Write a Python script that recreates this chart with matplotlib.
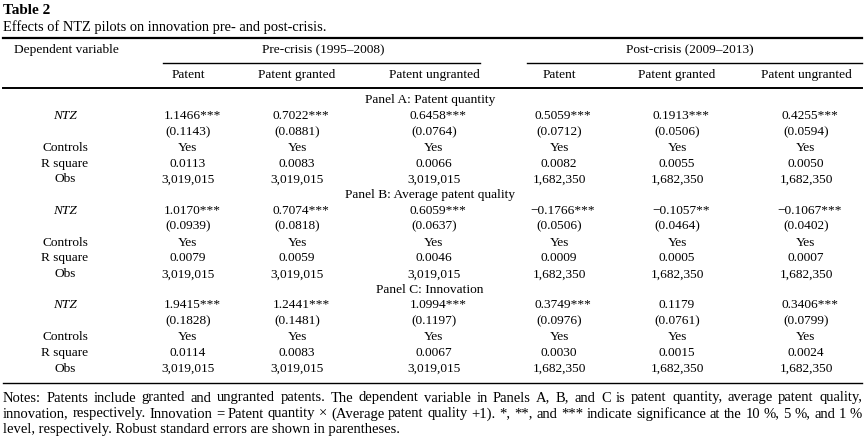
import matplotlib
matplotlib.use("Agg")
import matplotlib.pyplot as plt

plt.rcParams['font.family'] = ['Liberation Serif', 'DejaVu Serif']

# ---------------- data ----------------
title = "Table 2"
subtitle = "Effects of NTZ pilots on innovation pre- and post-crisis."
dep_label = "Dependent variable"
groups = ["Pre-crisis (1995\u20132008)", "Post-crisis (2009\u20132013)"]
columns = ["Patent", "Patent granted", "Patent ungranted",
           "Patent", "Patent granted", "Patent ungranted"]
panels = ["Panel A: Patent quantity", "Panel B: Average patent quality",
          "Panel C: Innovation"]
row_labels = ["NTZ", "", "Controls", "R square", "Obs"]

coef_A = ["1.1466***", "0.7022***", "0.6458***", "0.5059***", "0.1913***", "0.4255***"]
se_A = ["(0.1143)", "(0.0881)", "(0.0764)", "(0.0712)", "(0.0506)", "(0.0594)"]
r2_A = ["0.0113", "0.0083", "0.0066", "0.0082", "0.0055", "0.0050"]

coef_B = ["1.0170***", "0.7074***", "0.6059***", "\u22120.1766***", "\u22120.1057**", "\u22120.1067***"]
se_B = ["(0.0939)", "(0.0818)", "(0.0637)", "(0.0506)", "(0.0464)", "(0.0402)"]
r2_B = ["0.0079", "0.0059", "0.0046", "0.0009", "0.0005", "0.0007"]

coef_C = ["1.9415***", "1.2441***", "1.0994***", "0.3749***", "0.1179", "0.3406***"]
se_C = ["(0.1828)", "(0.1481)", "(0.1197)", "(0.0976)", "(0.0761)", "(0.0799)"]
r2_C = ["0.0114", "0.0083", "0.0067", "0.0030", "0.0015", "0.0024"]

controls = ["Yes"] * 6
obs = ["3,019,015"] * 3 + ["1,682,350"] * 3

notes = [
    "Notes: Patents include granted and ungranted patents. The dependent variable in Panels A, B, and C is patent quantity, average patent quality,",
    "innovation, respectively. Innovation = Patent quantity \u00d7 (Average patent quality +1). *, **, and *** indicate significance at the 10 %, 5 %, and 1 %",
    "level, respectively. Robust standard errors are shown in parentheses.",
]

# ---------------- layout ----------------
W, H = 865, 442
fig = plt.figure(figsize=(W / 100, H / 100), dpi=100)
ax = fig.add_axes([0, 0, 1, 1])
ax.set_xlim(0, W)
ax.set_ylim(H, 0)
ax.axis('off')

FS = 9.6
col_x = [188, 297, 434, 559, 677, 806]
label_x = 65

ax.text(3, 10, title, fontsize=11, fontweight='bold', ha='left', va='center')
ax.text(3, 27, subtitle, fontsize=10.4, ha='left', va='center')

ax.plot([3, 862], [38, 38], color='black', lw=1.6)
ax.text(14, 50, dep_label, fontsize=FS, ha='left', va='center')
ax.text(323, 50, groups[0], fontsize=FS, ha='center', va='center')
ax.text(690, 50, groups[1], fontsize=FS, ha='center', va='center')
ax.plot([163, 480], [63, 63], color='black', lw=1.0)
ax.plot([527, 862], [63, 63], color='black', lw=1.0)
for x, c in zip(col_x, columns):
    ax.text(x, 75, c, fontsize=FS, ha='center', va='center')
ax.plot([3, 862], [88, 88], color='black', lw=1.4)

panel_data = [
    (coef_A, se_A, r2_A),
    (coef_B, se_B, r2_B),
    (coef_C, se_C, r2_C),
]
y0 = 100
step = 15.9
y = y0
for pname, (coef, se, r2) in zip(panels, panel_data):
    ax.text(430, y, pname, fontsize=FS, ha='center', va='center')
    rows = [coef, se, controls, r2, obs]
    for i, (lab, vals) in enumerate(zip(row_labels, rows)):
        yy = y + step * (i + 1)
        if lab:
            ax.text(label_x, yy, lab, fontsize=FS, ha='center', va='center',
                    style='italic' if lab == 'NTZ' else 'normal')
        for x, v in zip(col_x, vals):
            ax.text(x + (4 if v.endswith('*') else 0), yy, v, fontsize=FS,
                    ha='center', va='center')
    y = y + step * 6 - 0.6

ax.plot([3, 862], [383, 383], color='black', lw=1.0)

# justified notes
fig.canvas.draw()
renderer = fig.canvas.get_renderer()
NFS = 10.5
left, right = 3, 862
note_y = [398, 414, 430]


def width_px(s):
    t = ax.text(0, 0, s, fontsize=NFS)
    bb = t.get_window_extent(renderer=renderer)
    t.remove()
    return bb.width


for k, (line, yy) in enumerate(zip(notes, note_y)):
    if k == len(notes) - 1:
        ax.text(left, yy, line, fontsize=NFS, ha='left', va='center')
        continue
    words = line.split(' ')
    widths = [width_px(w) for w in words]
    gap = (right - left - sum(widths)) / (len(words) - 1)
    x = left
    for w, wd in zip(words, widths):
        ax.text(x, yy, w, fontsize=NFS, ha='left', va='center')
        x += wd + gap

fig.savefig("out.png", dpi=100)
